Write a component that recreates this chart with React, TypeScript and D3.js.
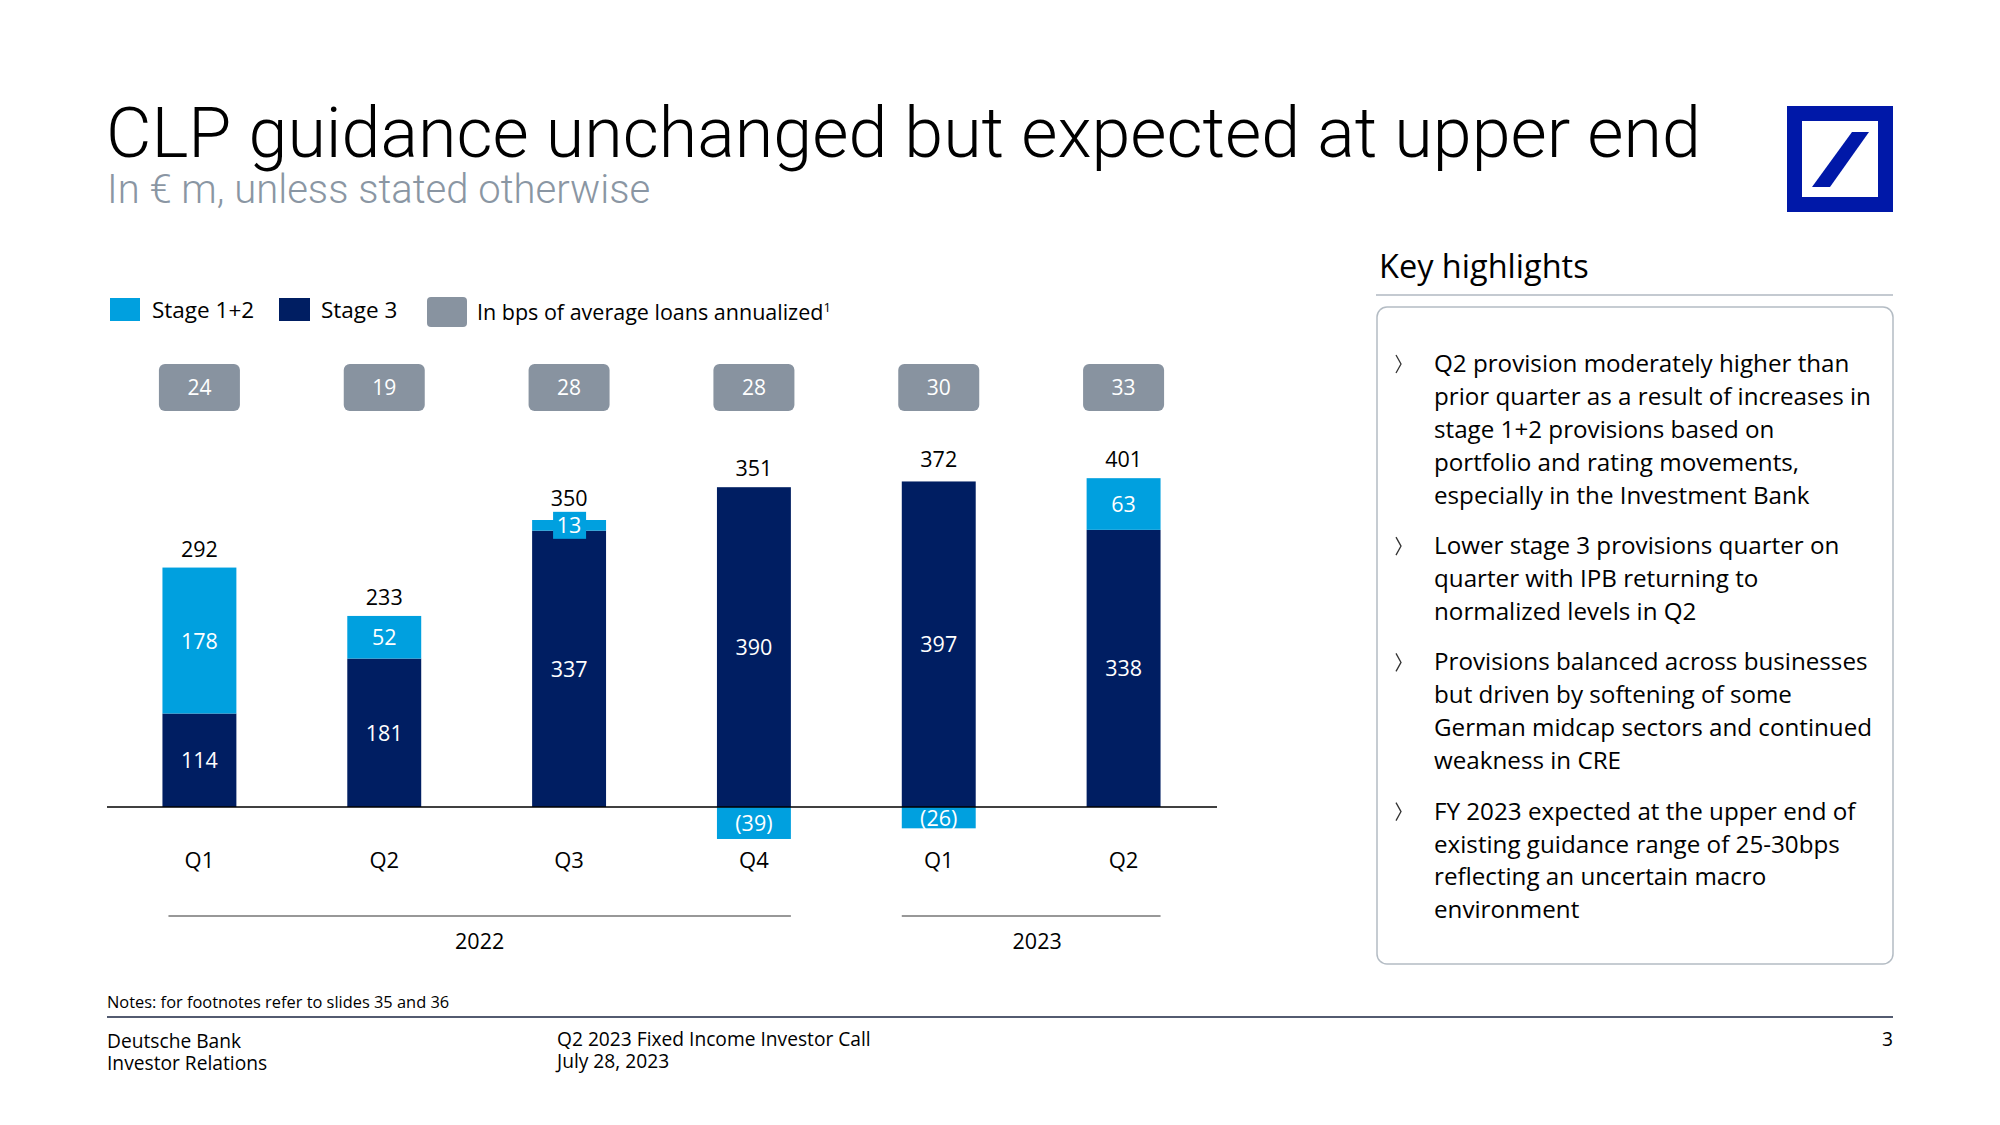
import React from "react";
import * as d3 from "d3";

const quarters = ["Q1", "Q2", "Q3", "Q4", "Q1", "Q2"];
const years = ["2022", "2022", "2022", "2022", "2023", "2023"];
const stage12 = [178, 52, 13, -39, -26, 63];
const stage3 = [114, 181, 337, 390, 397, 338];
const totals = [292, 233, 350, 351, 372, 401];
const bps = [24, 19, 28, 28, 30, 33];
const yearGroups = ["2022", "2023"];

const highlights = [
  [
    "Q2 provision moderately higher than",
    "prior quarter as a result of increases in",
    "stage 1+2 provisions based on",
    "portfolio and rating movements,",
    "especially in the Investment Bank",
  ],
  [
    "Lower stage 3 provisions quarter on",
    "quarter with IPB returning to",
    "normalized levels in Q2",
  ],
  [
    "Provisions balanced across businesses",
    "but driven by softening of some",
    "German midcap sectors and continued",
    "weakness in CRE",
  ],
  [
    "FY 2023 expected at the upper end of",
    "existing guidance range of 25-30bps",
    "reflecting an uncertain macro",
    "environment",
  ],
];

const LIGHT = "#00A0DF";
const DARK = "#001E62";
const GRAY = "#8893A0";
const FONT = "'Open Sans', 'Noto Sans', sans-serif";

export default function App() {
  const ids = quarters.map((q, i) => `${q}-${years[i]}`);
  const x = d3
    .scaleBand<string>()
    .domain(ids)
    .range([107, 1216])
    .paddingInner(0.6)
    .paddingOuter(0.3);
  const y = d3.scaleLinear().domain([0, 400]).range([807, 479]);
  const bw = x.bandwidth();

  const bars = ids.map((id, i) => {
    const s3 = stage3[i];
    const s12 = stage12[i];
    const cx = (x(id) as number) + bw / 2;
    const darkTop = y(s3);
    let lightY0: number, lightY1: number;
    if (s12 >= 0) {
      lightY0 = y(s3 + s12);
      lightY1 = y(s3);
    } else {
      lightY0 = y(0);
      lightY1 = y(s12);
    }
    const top = Math.min(darkTop, lightY0);
    return { id, i, cx, x0: x(id) as number, darkTop, lightY0, lightY1, top, s3, s12 };
  });

  const fmt = (v: number) => (v < 0 ? `(${Math.abs(v)})` : `${v}`);

  const groupExtent = (yr: string) => {
    const idx = ids.filter((_, i) => years[i] === yr);
    const x0 = x(idx[0]) as number;
    const x1 = (x(idx[idx.length - 1]) as number) + bw;
    return [x0, x1];
  };

  let lineY = 364;
  const hlLines: { text: string; y: number; first: boolean }[] = [];
  highlights.forEach((para) => {
    para.forEach((t, li) => {
      hlLines.push({ text: t, y: lineY, first: li === 0 });
      lineY += 32.9;
    });
    lineY += 17.6;
  });

  return (
    <svg
      width={2000}
      height={1125}
      style={{ position: "absolute", left: 0, top: 0, background: "#fff" }}
      fontFamily={FONT}
    >
      <rect x={0} y={0} width={2000} height={1125} fill="#fff" />
      {/* Title */}
      <text x={106} y={157} fontSize={70} fontFamily="Roboto, sans-serif" fontWeight={300} fill="#000">
        CLP guidance unchanged but expected at upper end
      </text>
      <text x={107} y={203} fontSize={40} fontFamily="Roboto, sans-serif" fontWeight={300} fill="#8A96A3">
        In € m, unless stated otherwise
      </text>

      {/* Logo */}
      <rect x={1787} y={106} width={106} height={106} fill="#0018A8" />
      <rect x={1802} y={121} width={76} height={76} fill="#fff" />
      <polygon points="1852,132 1869,132 1830,187 1812,187" fill="#0018A8" />

      {/* Legend */}
      <rect x={110} y={298} width={30} height={23} fill={LIGHT} />
      <text x={152} y={318} fontSize={22.5} fill="#000">Stage 1+2</text>
      <rect x={279} y={298} width={31} height={23} fill={DARK} />
      <text x={321} y={318} fontSize={22.5} fill="#000">Stage 3</text>
      <rect x={427} y={297} width={40} height={30} rx={4} fill={GRAY} />
      <text x={477} y={320} fontSize={21.5} fill="#000">
        In bps of average loans annualized<tspan fontSize={13} dy={-8}>1</tspan>
      </text>

      {/* bps boxes */}
      {bars.map((b) => (
        <g key={`bps-${b.id}`}>
          <rect x={b.cx - 40.5} y={364} width={81} height={47} rx={6} fill={GRAY} />
          <text x={b.cx} y={395} fontSize={21} fill="#fff" textAnchor="middle">
            {bps[b.i]}
          </text>
        </g>
      ))}

      {/* Bars */}
      {bars.map((b) => (
        <g key={`bar-${b.id}`}>
          <rect x={b.x0} y={b.darkTop} width={bw} height={y(0) - b.darkTop} fill={DARK} />
          <rect x={b.x0} y={b.lightY0} width={bw} height={b.lightY1 - b.lightY0} fill={LIGHT} />
        </g>
      ))}

      {/* Axis line */}
      <line x1={107} x2={1217} y1={y(0)} y2={y(0)} stroke="#000" strokeWidth={1.6} />

      {/* Segment labels */}
      {bars.map((b) => {
        const darkMid = (b.darkTop + y(0)) / 2;
        const lightMid = (b.lightY0 + b.lightY1) / 2;
        const small = Math.abs(b.lightY1 - b.lightY0) < 25;
        return (
          <g key={`lab-${b.id}`}>
            <text x={b.cx} y={darkMid + 8} fontSize={21.5} fill="#fff" textAnchor="middle">
              {fmt(b.s3)}
            </text>
            {small && b.s12 > 0 && (
              <rect x={b.cx - 16} y={lightMid - 13.5} width={33} height={27} fill={LIGHT} />
            )}
            <text x={b.cx} y={lightMid + 8} fontSize={21.5} fill="#fff" textAnchor="middle">
              {fmt(b.s12)}
            </text>
            <text x={b.cx} y={b.top - (small ? 14 : 11)} fontSize={21.5} fill="#000" textAnchor="middle">
              {totals[b.i]}
            </text>
            <text x={b.cx} y={868} fontSize={22} fill="#000" textAnchor="middle">
              {quarters[b.i]}
            </text>
          </g>
        );
      })}

      {/* Year groups */}
      {yearGroups.map((yr, gi) => {
        const [x0, x1] = groupExtent(yr);
        const lx0 = gi === 0 ? x0 + 6 : x0;
        return (
          <g key={`yr-${yr}`}>
            <line x1={lx0} x2={x1} y1={916} y2={916} stroke="#333" strokeWidth={1.2} />
            <text x={(lx0 + x1) / 2 + (gi === 1 ? 6 : 0)} y={949} fontSize={21.5} fill="#000" textAnchor="middle">
              {yr}
            </text>
          </g>
        );
      })}

      {/* Key highlights */}
      <text x={1379} y={278} fontSize={32.5} fill="#000">Key highlights</text>
      <line x1={1376} x2={1893} y1={295} y2={295} stroke="#8A96A3" strokeWidth={1.2} />
      <rect x={1377} y={307} width={516} height={657} rx={10} fill="none" stroke="#B4BCC4" strokeWidth={1.5} />
      {hlLines.map((l, k) => (
        <g key={`hl-${k}`}>
          {l.first && (
            <polyline
              points={`${1396},${l.y - 9} ${1401},${l.y} ${1396},${l.y + 9}`}
              fill="none"
              stroke="#333"
              strokeWidth={1.3}
            />
          )}
          <text x={1434} y={l.y + 8} fontSize={24.2} fill="#000">
            {l.text}
          </text>
        </g>
      ))}

      {/* Footer */}
      <text x={107} y={1008} fontSize={16.4} fill="#000">Notes: for footnotes refer to slides 35 and 36</text>
      <line x1={107} x2={1893} y1={1017} y2={1017} stroke="#1A2540" strokeWidth={1.5} />
      <text x={107} y={1048} fontSize={19.2} fill="#000">Deutsche Bank</text>
      <text x={107} y={1070} fontSize={19.2} fill="#000">Investor Relations</text>
      <text x={557} y={1046} fontSize={19.2} fill="#000">Q2 2023 Fixed Income Investor Call</text>
      <text x={557} y={1068} fontSize={19.2} fill="#000">July 28, 2023</text>
      <text x={1893} y={1046} fontSize={19.2} fill="#000" textAnchor="end">3</text>
    </svg>
  );
}
